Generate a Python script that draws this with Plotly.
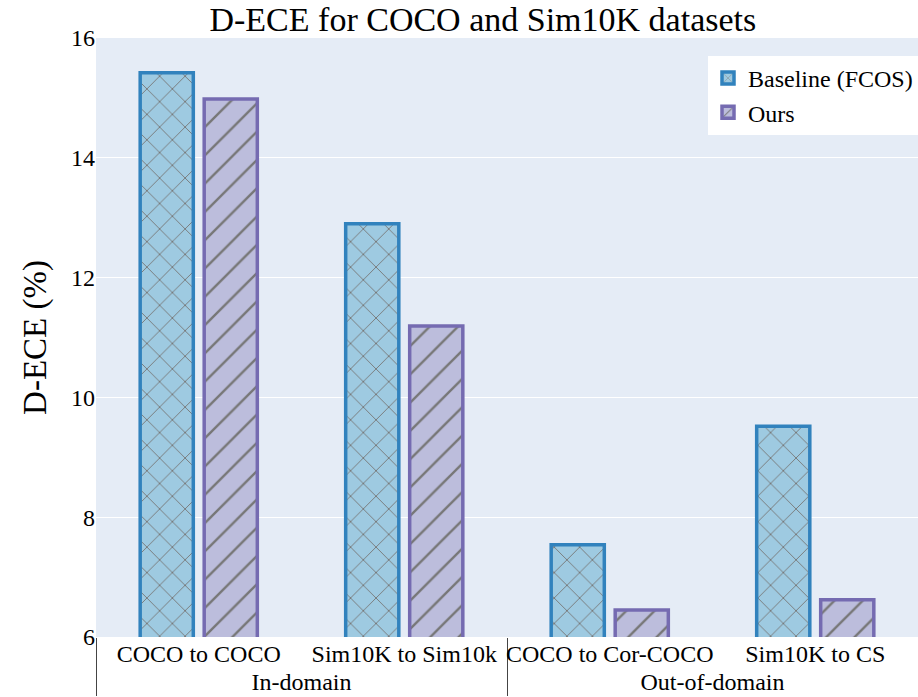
import plotly.graph_objects as go

# Grouped categories: outer domain group, inner transfer setting
domains = ["In-domain", "In-domain", "Out-of-domain", "Out-of-domain"]
settings = ["COCO to COCO", "Sim10K to Sim10k", "COCO to Cor-COCO", "Sim10K to CS"]

baseline_dece = [15.42, 12.90, 7.54, 9.52]
ours_dece = [14.98, 11.19, 6.45, 6.62]

FONT = "Liberation Serif, Times New Roman, serif"

fig = go.Figure()
fig.add_trace(go.Bar(
    name="Baseline (FCOS)",
    x=[domains, settings],
    y=baseline_dece,
    marker=dict(
        color="#9ecae1",
        line=dict(color="#3182bd", width=3.5),
        pattern=dict(shape="x", fgcolor="#777777", fgopacity=1, size=18, solidity=0.1),
    ),
))
fig.add_trace(go.Bar(
    name="Ours",
    x=[domains, settings],
    y=ours_dece,
    marker=dict(
        color="#bcbddc",
        line=dict(color="#756bb1", width=3.5),
        pattern=dict(shape="/", fgcolor="#777777", fgopacity=1, size=20, solidity=0.12),
    ),
))

fig.update_layout(
    width=918, height=697,
    template="plotly",
    margin=dict(l=96, r=0, t=38, b=60),
    title=dict(text="D-ECE for COCO and Sim10K datasets", x=0.526, xanchor="center",
               y=0.972, yanchor="middle",
               font=dict(family=FONT, size=34, color="black")),
    font=dict(family=FONT, size=24, color="black"),
    barmode="group",
    bargap=0.377,
    bargroupgap=0.17,
    legend=dict(x=1.0, xanchor="right", y=0.97, yanchor="top",
                bgcolor="white", font=dict(family=FONT, size=24, color="black"),
                itemwidth=30, tracegroupgap=10, borderwidth=0),
    yaxis=dict(title=dict(text="D-ECE (%)", font=dict(family=FONT, size=33), standoff=14),
               range=[6, 16], dtick=2, tickfont=dict(family=FONT, size=24),
               gridcolor="white", zeroline=False, automargin=False),
    xaxis=dict(tickfont=dict(family=FONT, size=24), tickangle=0, showdividers=True,
               dividercolor="#444", dividerwidth=1, automargin=False),
)

fig.write_html("out.html")
